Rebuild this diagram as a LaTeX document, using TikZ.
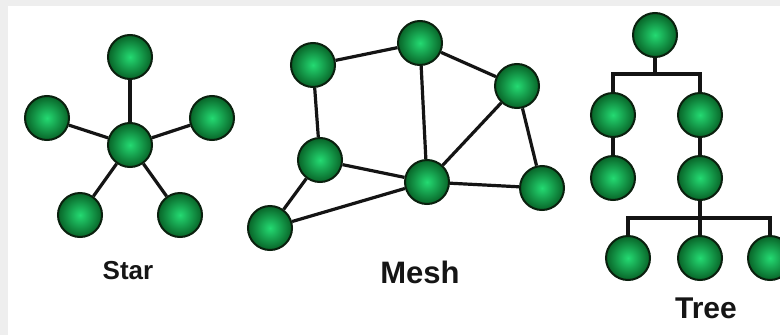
\documentclass[tikz,border=0pt]{standalone}
\usepackage{fontspec}
\setmainfont{Liberation Sans}
\pgfdeclarelayer{bg}
\pgfdeclarelayer{edges}
\pgfsetlayers{bg,edges,main}
\definecolor{nodein}{HTML}{24DA72}
\definecolor{nodeout}{HTML}{086428}
\definecolor{nodeline}{HTML}{0A200E}
\definecolor{framegray}{HTML}{EEEEEE}
\definecolor{labelc}{HTML}{151515}
\tikzset{
  ball/.style={circle, minimum size=44pt, inner sep=0pt, draw=nodeline, line width=2pt,
    shading=radial, inner color=nodein, outer color=nodeout},
  link/.style={draw=black!92, line width=3.2pt},
  label/.style={font=\bfseries, text=labelc, inner sep=0pt}
}
\begin{document}
\begin{tikzpicture}[x=1pt,y=-1pt]
\useasboundingbox (0,0) rectangle (780,335);
\clip (0,0) rectangle (780,335);
\begin{pgfonlayer}{bg}
\fill[framegray] (0,0) rectangle (780,335);
\fill[white] (8,6) rectangle (780,335);
\end{pgfonlayer}
% Star
\node[ball] (sc) at (130,145) {};
\node[ball] (st) at (130,57) {};
\node[ball] (sl) at (47,118) {};
\node[ball] (sr) at (212,118) {};
\node[ball] (sbl) at (80,215) {};
\node[ball] (sbr) at (180,215) {};
\node[label, font=\fontsize{26}{28}\selectfont\bfseries] (slab) at (128,271) {Star};
% Mesh
\node[ball] (ma) at (313,65) {};
\node[ball] (mb) at (420,43) {};
\node[ball] (mc) at (517,86) {};
\node[ball] (md) at (320,160) {};
\node[ball] (me) at (427,182) {};
\node[ball] (mf) at (542,188) {};
\node[ball] (mg) at (270,228) {};
\node[label, font=\fontsize{31}{33}\selectfont\bfseries] (mlab) at (420,272) {Mesh};
% Tree
\node[ball] (tr) at (655,35) {};
\node[ball] (tl1) at (613,115) {};
\node[ball] (tr1) at (700,115) {};
\node[ball] (tl2) at (613,178) {};
\node[ball] (tr2) at (700,178) {};
\node[ball] (tf1) at (628,258) {};
\node[ball] (tf2) at (700,258) {};
\node[ball] (tf3) at (770,258) {};
\coordinate (tb1) at (655,74);
\coordinate (tb2) at (700,218);
\node[label, font=\fontsize{30}{32}\selectfont\bfseries] (tlab) at (706,308) {Tree};
\begin{pgfonlayer}{edges}
\foreach \n in {st,sl,sr,sbl,sbr} \draw[link] (sc) -- (\n);
\draw[link] (ma) -- (mb);
\draw[link] (mb) -- (mc);
\draw[link] (ma) -- (md);
\draw[link] (mb) -- (me);
\draw[link] (mc) -- (me);
\draw[link] (mc) -- (mf);
\draw[link] (md) -- (me);
\draw[link] (md) -- (mg);
\draw[link] (mg) -- (me);
\draw[link] (me) -- (mf);
\draw[link] (tr) -- (tb1);
\draw[link] (tl1) |- (tb1) -| (tr1);
\draw[link] (tl1) -- (tl2);
\draw[link] (tr1) -- (tr2);
\draw[link] (tr2) -- (tf2);
\draw[link] (tf1) |- (tb2) -| (tf3);
\end{pgfonlayer}
\end{tikzpicture}
\end{document}
